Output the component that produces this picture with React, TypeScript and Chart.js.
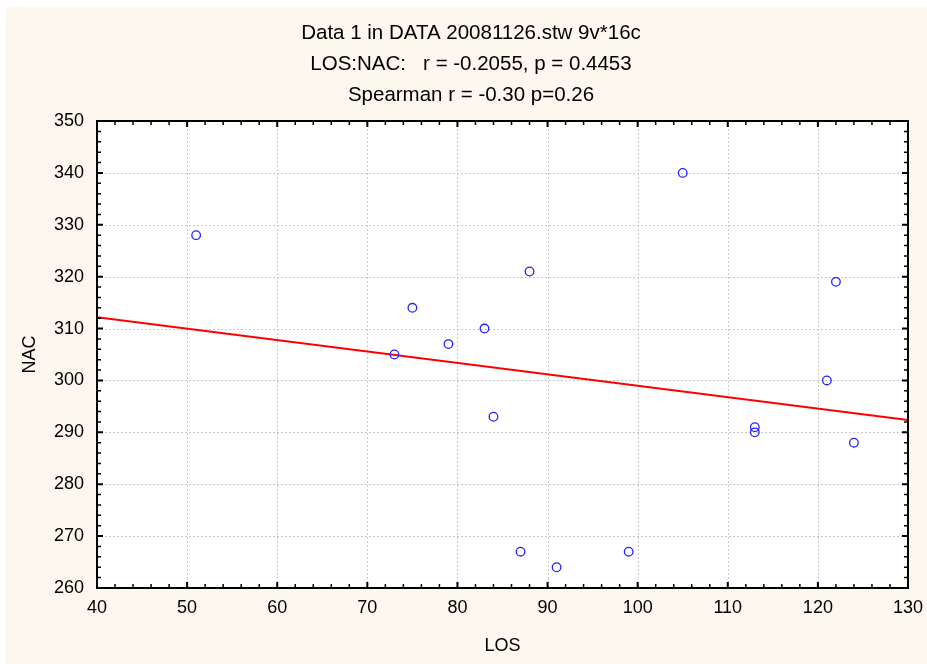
import React, { useEffect, useRef } from "react";
import { Chart, registerables } from "chart.js";

Chart.register(...registerables);

// ---- data ----
const titleLines = [
  "Data 1 in DATA 20081126.stw 9v*16c",
  "LOS:NAC:   r = -0.2055, p = 0.4453",
  "Spearman r = -0.30 p=0.26",
];
const xAxisLabel = "LOS";
const yAxisLabel = "NAC";
const losValues = [51, 73, 75, 79, 83, 84, 87, 88, 91, 99, 105, 113, 113, 121, 122, 124];
const nacValues = [328, 305, 314, 307, 310, 293, 267, 321, 264, 267, 340, 291, 290, 300, 319, 288];
const xTickValues = [40, 50, 60, 70, 80, 90, 100, 110, 120, 130];
const yTickValues = [260, 270, 280, 290, 300, 310, 320, 330, 340, 350];

const FONT = '"Liberation Sans", Arial, sans-serif';
const W = 927;
const H = 664;

function regression(xs: number[], ys: number[]) {
  const n = xs.length;
  const mx = xs.reduce((a, b) => a + b, 0) / n;
  const my = ys.reduce((a, b) => a + b, 0) / n;
  let sxy = 0;
  let sxx = 0;
  for (let i = 0; i < n; i++) {
    sxy += (xs[i] - mx) * (ys[i] - my);
    sxx += (xs[i] - mx) * (xs[i] - mx);
  }
  const b = sxy / sxx;
  const a = my - b * mx;
  return { a, b };
}

const decorPlugin = {
  id: "decor",
  beforeDraw(chart: any) {
    const ctx = chart.ctx;
    const ca = chart.chartArea;
    ctx.save();
    ctx.fillStyle = "#ffffff";
    ctx.fillRect(0, 0, W, H);
    ctx.fillStyle = "#fdf8ed";
    ctx.fillRect(6, 7, W - 6, H - 7);
    ctx.fillStyle = "#ffffff";
    ctx.fillRect(ca.left, ca.top, ca.right - ca.left, ca.bottom - ca.top);
    ctx.restore();
  },
  beforeDatasetsDraw(chart: any) {
    const ctx = chart.ctx;
    const ca = chart.chartArea;
    const xs = chart.scales.x;
    const ys = chart.scales.y;
    ctx.save();
    ctx.strokeStyle = "#c8c8c8";
    ctx.lineWidth = 1;
    ctx.setLineDash([2, 2]);
    xTickValues.forEach((v) => {
      const px = Math.round(xs.getPixelForValue(v)) + 0.5;
      if (px <= ca.left + 2 || px >= ca.right - 2) return;
      ctx.beginPath();
      ctx.moveTo(px, ca.top);
      ctx.lineTo(px, ca.bottom);
      ctx.stroke();
    });
    yTickValues.forEach((v) => {
      const py = Math.round(ys.getPixelForValue(v)) + 0.5;
      if (py <= ca.top + 2 || py >= ca.bottom - 2) return;
      ctx.beginPath();
      ctx.moveTo(ca.left, py);
      ctx.lineTo(ca.right, py);
      ctx.stroke();
    });
    ctx.restore();
  },
  afterDatasetsDraw(chart: any) {
    const ctx = chart.ctx;
    const ca = chart.chartArea;
    const xs = chart.scales.x;
    const ys = chart.scales.y;
    ctx.save();
    ctx.strokeStyle = "#000000";
    const xMin = xTickValues[0];
    const xMax = xTickValues[xTickValues.length - 1];
    const yMin = yTickValues[0];
    const yMax = yTickValues[yTickValues.length - 1];
    for (let v = xMin; v <= xMax; v += 2) {
      const major = (v - xMin) % 10 === 0;
      const px = xs.getPixelForValue(v);
      const len = major ? 6 : 4;
      ctx.lineWidth = major ? 2 : 1.5;
      ctx.beginPath();
      ctx.moveTo(px, ca.bottom);
      ctx.lineTo(px, ca.bottom - len);
      ctx.moveTo(px, ca.top);
      ctx.lineTo(px, ca.top + len);
      ctx.stroke();
    }
    for (let v = yMin; v <= yMax; v += 2) {
      const major = (v - yMin) % 10 === 0;
      const py = ys.getPixelForValue(v);
      const len = major ? 6 : 4;
      ctx.lineWidth = major ? 2 : 1.5;
      ctx.beginPath();
      ctx.moveTo(ca.left, py);
      ctx.lineTo(ca.left + len, py);
      ctx.moveTo(ca.right, py);
      ctx.lineTo(ca.right - len, py);
      ctx.stroke();
    }
    ctx.lineWidth = 2;
    ctx.strokeRect(ca.left, ca.top, ca.right - ca.left, ca.bottom - ca.top);
    ctx.restore();
  },
  afterDraw(chart: any) {
    const ctx = chart.ctx;
    const ca = chart.chartArea;
    ctx.save();
    ctx.fillStyle = "#000000";
    ctx.textAlign = "center";
    ctx.textBaseline = "middle";
    ctx.font = `20.5px ${FONT}`;
    titleLines.forEach((t, i) => {
      ctx.fillText(t, 471, 33 + i * 31);
    });
    ctx.font = `18px ${FONT}`;
    ctx.fillText(xAxisLabel, (ca.left + ca.right) / 2, 646);
    ctx.translate(30, (ca.top + ca.bottom) / 2);
    ctx.rotate(-Math.PI / 2);
    ctx.fillText(yAxisLabel, 0, 0);
    ctx.restore();
  },
};

export default function App() {
  const ref = useRef<HTMLCanvasElement | null>(null);

  useEffect(() => {
    if (!ref.current) return;
    const { a, b } = regression(losValues, nacValues);
    const xMin = xTickValues[0];
    const xMax = xTickValues[xTickValues.length - 1];
    const points = losValues.map((x, i) => ({ x, y: nacValues[i] }));
    const fit = [
      { x: xMin, y: a + b * xMin },
      { x: xMax, y: a + b * xMax },
    ];
    const chart = new Chart(ref.current, {
      type: "scatter",
      data: {
        datasets: [
          {
            label: "NAC",
            data: points,
            pointRadius: 4.3,
            pointHoverRadius: 4.3,
            pointBorderWidth: 1.3,
            borderColor: "#2323ff",
            backgroundColor: "rgba(0,0,0,0)",
            pointStyle: "circle",
            order: 0,
          },
          {
            type: "line",
            label: "fit",
            data: fit,
            borderColor: "#ff0000",
            borderWidth: 2,
            pointRadius: 0,
            showLine: true,
            fill: false,
            order: 1,
          } as any,
        ],
      },
      options: {
        responsive: false,
        animation: false,
        events: [],
        layout: { padding: { left: 0, top: 121, right: 19, bottom: 0 } },
        plugins: {
          legend: { display: false },
          title: { display: false },
          tooltip: { enabled: false },
        },
        scales: {
          x: {
            type: "linear",
            min: xMin,
            max: xMax,
            afterFit: (s: any) => {
              s.height = 76;
              s.paddingLeft = 0;
              s.paddingRight = 0;
            },
            afterBuildTicks: (s: any) => {
              s.ticks = xTickValues.map((v) => ({ value: v }));
            },
            ticks: {
              color: "#000000",
              font: { family: FONT, size: 18 },
              padding: 9,
              maxRotation: 0,
              autoSkip: false,
            },
            grid: { display: false, drawTicks: false },
            border: { display: false },
          },
          y: {
            type: "linear",
            min: yTickValues[0],
            max: yTickValues[yTickValues.length - 1],
            afterFit: (s: any) => {
              s.width = 97;
              s.paddingTop = 0;
              s.paddingBottom = 0;
            },
            afterBuildTicks: (s: any) => {
              s.ticks = yTickValues.map((v) => ({ value: v }));
            },
            ticks: {
              color: "#000000",
              font: { family: FONT, size: 18 },
              padding: 13,
              autoSkip: false,
            },
            grid: { display: false, drawTicks: false },
            border: { display: false },
          },
        },
      },
      plugins: [decorPlugin],
    });
    return () => chart.destroy();
  }, []);

  return (
    <div style={{ position: "absolute", left: 0, top: 0, width: W, height: H }}>
      <canvas ref={ref} width={W} height={H} style={{ width: W, height: H, display: "block" }} />
    </div>
  );
}
